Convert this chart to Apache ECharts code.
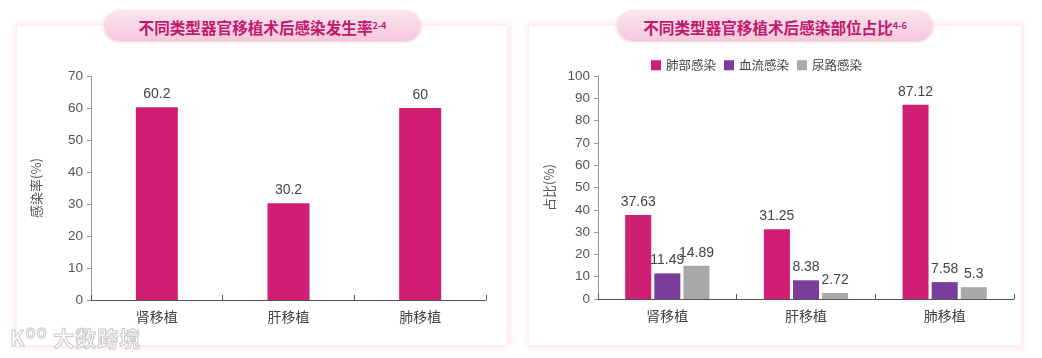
<!DOCTYPE html>
<html><head><meta charset="utf-8">
<script src="https://cdn.jsdelivr.net/npm/echarts@6/dist/echarts.min.js"></script>
<style>
html,body{margin:0;padding:0;background:#fff;width:1042px;height:358px;overflow:hidden;font-family:"Noto Sans CJK SC","Liberation Sans",sans-serif;}
.card{position:absolute;top:26px;height:319px;background:#fff;box-shadow:0 0 7px 2px rgba(245,195,215,0.45);}
.pill{position:absolute;top:10px;height:31px;border-radius:16px;background:linear-gradient(#fbe5ef,#f6c8dc);box-shadow:0 1px 3px rgba(220,150,180,0.45);color:#c2186e;font-weight:bold;font-size:15.6px;line-height:31px;text-align:center;z-index:2;}
.pill sup{font-size:9px;vertical-align:5px;}
#chart{position:absolute;left:0;top:0;width:1042px;height:358px;z-index:3;}
#wm{position:absolute;left:10px;top:322px;font-size:21px;font-weight:bold;color:#fff;-webkit-text-stroke:1px #c9c9c9;z-index:4;letter-spacing:1px;}
</style></head>
<body>
<div class="card" style="left:17px;width:490px;"></div>
<div class="card" style="left:529px;width:492px;"></div>
<div class="pill" style="left:104px;width:317px;">不同类型器官移植术后感染发生率<sup>2-4</sup></div>
<div class="pill" style="left:617px;width:316px;">不同类型器官移植术后感染部位占比<sup>4-6</sup></div>
<div id="chart"></div>
<div id="wm">K<span style="font-size:13px;vertical-align:8px">OO</span> 大数跨境</div>
<script>
const categories = ['肾移植','肝移植','肺移植'];
const infectionRate = [60.2, 30.2, 60];
const lungInfection = [37.63, 31.25, 87.12];
const bloodInfection = [11.49, 8.38, 7.58];
const urinaryInfection = [14.89, 2.72, 5.3];
const seriesNames = ['肺部感染','血流感染','尿路感染'];
const colors = ['#d01f72','#7b3d9c','#a8a8a8'];

const chart = echarts.init(document.getElementById('chart'), null, {renderer:'canvas'});
const axisLabelStyle = {color:'#555', fontSize:13.5, fontFamily:'Liberation Sans, Noto Sans CJK SC, sans-serif'};
const xLabelStyle = {color:'#444', fontSize:14, margin:10, fontFamily:'Noto Sans CJK SC, sans-serif'};
const valLabel = {show:true, position:'top', distance:6, color:'#444', fontSize:14, fontFamily:'Liberation Sans, sans-serif'};
function yAxis(gridIndex, max, interval, name){
  return {type:'value', gridIndex, min:0, max, interval, name, nameLocation:'middle', nameGap: gridIndex===0?48:42,
    nameTextStyle:{color:'#555', fontSize:13, fontFamily:'Noto Sans CJK SC, sans-serif'},
    axisLine:{show:true, lineStyle:{color:'#999', width:1}},
    axisTick:{show:true, length:4, lineStyle:{color:'#999'}},
    splitLine:{show:false}, axisLabel:{...axisLabelStyle, margin:8}};
}
function xAxis(gridIndex){
  return {type:'category', gridIndex, data:categories,
    axisLine:{lineStyle:{color:'#555', width:1}},
    axisTick:{show:true, inside:true, length:5, lineStyle:{color:'#555'}},
    axisLabel:xLabelStyle};
}
chart.setOption({
  animation:false,
  legend:{data:seriesNames, top:54, left:646, itemWidth:10, itemHeight:10, itemGap:8,
    icon:'rect', textStyle:{color:'#444', fontSize:12.5, fontFamily:'Noto Sans CJK SC, sans-serif'}},
  grid:[{left:91, right:556, top:76, bottom:58},{left:598, right:28, top:76, bottom:59}],
  xAxis:[xAxis(0), xAxis(1)],
  yAxis:[yAxis(0,70,10,'感染率(%)'), yAxis(1,100,10,'占比(%)')],
  series:[
    {type:'bar', name:'感染率', xAxisIndex:0, yAxisIndex:0, data:infectionRate, barWidth:42,
      itemStyle:{color:colors[0]}, label:valLabel},
    {type:'bar', name:seriesNames[0], xAxisIndex:1, yAxisIndex:1, data:lungInfection, barWidth:26, barGap:'12%',
      itemStyle:{color:colors[0]}, label:valLabel},
    {type:'bar', name:seriesNames[1], xAxisIndex:1, yAxisIndex:1, data:bloodInfection, barWidth:26, barGap:'12%',
      itemStyle:{color:colors[1]}, label:valLabel},
    {type:'bar', name:seriesNames[2], xAxisIndex:1, yAxisIndex:1, data:urinaryInfection, barWidth:26, barGap:'12%',
      itemStyle:{color:colors[2]}, label:valLabel}
  ]
});
</script>
</body></html>
